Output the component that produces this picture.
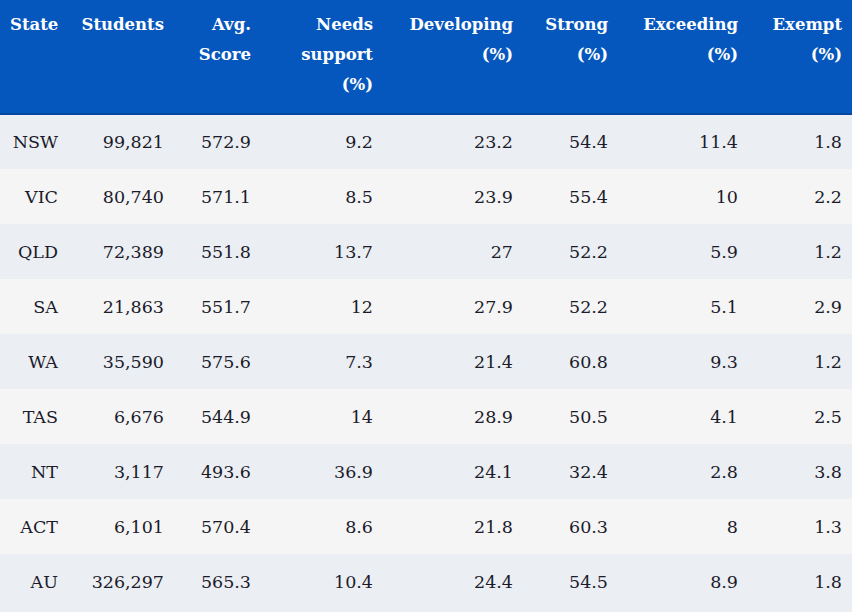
import React from "react"

const headers = [
  ["State"],
  ["Students"],
  ["Avg.", "Score"],
  ["Needs", "support", "(%)"],
  ["Developing", "(%)"],
  ["Strong", "(%)"],
  ["Exceeding", "(%)"],
  ["Exempt", "(%)"],
]

const states = ["NSW", "VIC", "QLD", "SA", "WA", "TAS", "NT", "ACT", "AU"]
const students = ["99,821", "80,740", "72,389", "21,863", "35,590", "6,676", "3,117", "6,101", "326,297"]
const avgScore = [572.9, 571.1, 551.8, 551.7, 575.6, 544.9, 493.6, 570.4, 565.3]
const needsSupport = [9.2, 8.5, 13.7, 12, 7.3, 14, 36.9, 8.6, 10.4]
const developing = [23.2, 23.9, 27, 27.9, 21.4, 28.9, 24.1, 21.8, 24.4]
const strong = [54.4, 55.4, 52.2, 52.2, 60.8, 50.5, 32.4, 60.3, 54.5]
const exceeding = [11.4, 10, 5.9, 5.1, 9.3, 4.1, 2.8, 8, 8.9]
const exempt = [1.8, 2.2, 1.2, 2.9, 1.2, 2.5, 3.8, 1.3, 1.8]

const colWidths = [68, 106, 87, 122, 140, 95, 130, 104]

export default function App() {
  return (
    <div style={{ width: 852, height: 612, background: "#ebeef2", overflow: "hidden" }}>
      <style>{"body{margin:0}"}</style>
      <table
        style={{
          width: 852,
          borderCollapse: "collapse",
          tableLayout: "fixed",
          fontFamily: "'DejaVu Serif', serif",
          fontSize: 17.5,
          color: "#1b1b2b",
        }}
      >
        <colgroup>
          {colWidths.map((w, i) => (
            <col key={i} style={{ width: w }} />
          ))}
        </colgroup>
        <thead>
          <tr style={{ background: "#0657bd", borderBottom: "2px solid #0447a0" }}>
            {headers.map((lines, i) => (
              <th
                key={i}
                style={{
                  height: 114,
                  boxSizing: "border-box",
                  padding: "10px 10px 0 10px",
                  verticalAlign: "top",
                  textAlign: "right",
                  color: "#ffffff",
                  fontWeight: "bold",
                  fontSize: 16.5,
                  lineHeight: "30px",
                  whiteSpace: "nowrap",
                }}
              >
                {lines.map((l, j) => (
                  <div key={j}>{l}</div>
                ))}
              </th>
            ))}
          </tr>
        </thead>
        <tbody>
          {states.map((s, r) => {
            const cells = [s, students[r], avgScore[r], needsSupport[r], developing[r], strong[r], exceeding[r], exempt[r]]
            return (
              <tr key={s} style={{ background: r % 2 === 0 ? "#ebeef2" : "#f5f5f5", height: 55 }}>
                {cells.map((c, i) => (
                  <td
                    key={i}
                    style={{ padding: "0 10px", textAlign: "right", verticalAlign: "middle", whiteSpace: "nowrap" }}
                  >
                    {c}
                  </td>
                ))}
              </tr>
            )
          })}
        </tbody>
      </table>
    </div>
  )
}
